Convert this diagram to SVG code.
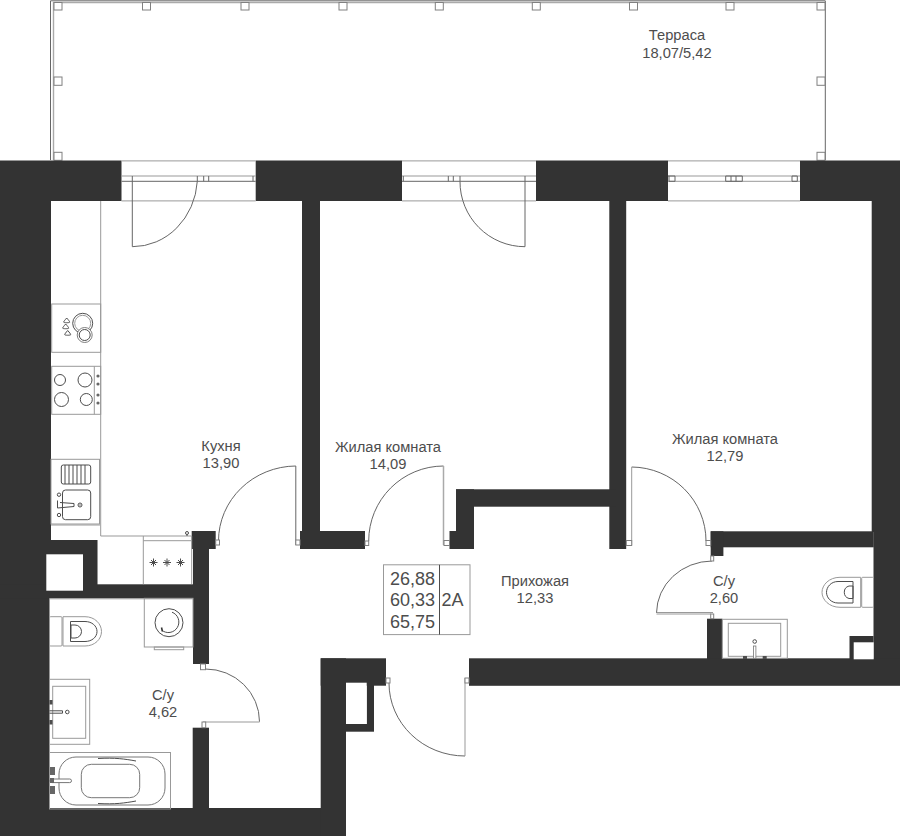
<svg xmlns="http://www.w3.org/2000/svg" width="900" height="836" viewBox="0 0 900 836">
<style>
.w{fill:#333;stroke:none}
.l{fill:none;stroke:#666;stroke-width:1}
.g{fill:none;stroke:#999;stroke-width:1}
.f{fill:#fff;stroke:#808080;stroke-width:1}
.k{fill:none;stroke:#4d4d4d;stroke-width:1}
.t{font-family:"Liberation Sans",Arial,sans-serif;font-size:14.7px;fill:#4d4d4d;text-anchor:middle}
.b{font-family:"Liberation Sans",Arial,sans-serif;font-size:18px;fill:#4d4d4d;text-anchor:middle}
</style>
<rect width="900" height="836" fill="#fff"/>
<g id="terrace">
<path class="l" d="M50.500 160V.8H825.300V160"/>
<path d="M53.500 160V2.500H825" fill="none" stroke="#aaa" stroke-width="1.400"/>
<g class="f">
<rect class="f" x="54" y="2.500" width="8" height="7.500"/><rect class="f" x="142.500" y="2.500" width="8" height="7.500"/><rect class="f" x="241" y="2.500" width="8" height="7.500"/><rect class="f" x="339" y="2.500" width="8" height="7.500"/><rect class="f" x="435.300" y="2.500" width="8" height="7.500"/><rect class="f" x="532.300" y="2.500" width="8" height="7.500"/><rect class="f" x="629.500" y="2.500" width="8" height="7.500"/><rect class="f" x="726" y="2.500" width="8" height="7.500"/><rect class="f" x="817" y="2.500" width="8" height="7.500"/>
<rect class="f" x="54" y="77" width="8" height="8.300"/><rect class="f" x="54" y="152.300" width="8" height="8"/><rect class="f" x="817" y="77" width="8" height="8.300"/><rect class="f" x="817" y="152.300" width="8" height="8"/>
</g>
</g>
<g id="walls">
<rect class="w" x="0" y="160.500" width="121.500" height="40.500"/>
<rect class="w" x="255.700" y="160.500" width="146.300" height="40.500"/>
<rect class="w" x="536" y="160.500" width="132" height="40.500"/>
<rect class="w" x="800" y="160.500" width="100" height="40.500"/>
<rect class="w" x="0" y="200" width="51" height="345"/>
<rect class="w" x="0" y="540" width="49.500" height="296"/>
<rect class="w" x="0" y="540" width="97.300" height="50"/>
<rect class="w" x="0" y="584.300" width="209" height="14"/>
<rect class="w" x="83" y="540" width="14.300" height="50"/>
<rect class="w" x="193" y="531" width="16" height="133"/>
<rect class="w" x="191.700" y="531" width="24" height="18"/>
<rect class="w" x="192.700" y="727.700" width="16.300" height="85"/>
<rect class="w" x="0" y="808" width="346" height="28"/>
<rect class="w" x="302" y="200" width="18" height="345"/>
<rect class="w" x="300" y="531" width="65" height="18"/>
<rect class="w" x="609.300" y="200" width="16.900" height="349"/>
<rect class="w" x="456" y="489.300" width="160" height="17.400"/>
<rect class="w" x="456" y="489.300" width="18" height="59.700"/>
<rect class="w" x="449.500" y="531" width="24.500" height="18"/>
<rect class="w" x="871.700" y="200" width="28.300" height="332"/>
<rect class="w" x="710.700" y="531.300" width="163" height="16"/>
<rect class="w" x="710.700" y="531.300" width="12.700" height="24.700"/>
<rect class="w" x="873.500" y="531" width="26.500" height="130"/>
<rect class="w" x="849.500" y="636" width="24" height="24"/>
<rect class="w" x="707" y="618.700" width="15.300" height="42"/>
<rect class="w" x="469" y="658.300" width="431" height="27.500"/>
<rect class="w" x="320.700" y="658.300" width="65.300" height="27.400"/>
<rect class="w" x="320.700" y="658.300" width="25.300" height="178"/>
<rect class="w" x="346" y="724" width="28" height="7.700"/>
<rect class="w" x="366.700" y="683" width="7.300" height="48"/>
<rect x="46.300" y="554.300" width="36.700" height="36.400" fill="#fff"/>
<rect x="853.700" y="642.300" width="20" height="17" fill="#fff"/>
<rect x="346" y="682.700" width="20.700" height="41.300" fill="#fff"/>
</g>
<g id="windows">
<path class="g" d="M121.500 160.900H255.700M121.500 200.900H255.700M402 160.900H536M402 200.900H536M668 160.900H800M668 200.900H800"/>
<path class="g" d="M121.500 176H255.700M402 176H536M668 176H800"/>
<path class="l" d="M121.500 181.300H255.700M402 181.300H536"/>
<path class="g" d="M668 181.300H800"/>
<path class="l" d="M197.300 176V181.300M203.700 176V181.300M208.700 176V181.300M253 176V181.300M403.300 176V181.300M448.300 176V181.300M453.300 176V181.300M669 176V181.300M675 176V181.300M725.700 176V181.300M731 176V181.300M736 176V181.300M742.300 176V181.300M792 176V181.300M797.300 176V181.300M668 176H675M725.700 176H742.300M792 176H797.300M669 181.300H675M725.700 181.300H742.300M792 181.300H797.300"/>
</g>
<g id="doors">
<path class="l" d="M132.300 176V246.700A65 70 0 0 0 197.300 181.300"/>
<path class="l" d="M525 176V246.700A65 65 0 0 1 460 181.300V176"/>
<path class="l" d="M295.800 466V545"/>
<path class="l" d="M295.800 466A78 75 0 0 0 218.500 541"/>
<rect class="f" x="215.700" y="540" width="3.800" height="5"/><rect class="f" x="295.800" y="540" width="4.200" height="5"/>
<path class="l" d="M443.500 466A75 75 0 0 0 368.700 541"/>
<path d="M443.500 466V545" fill="none" stroke="#aaa" stroke-width="1.500"/>
<rect class="f" x="365" y="541" width="3.700" height="4.500"/><rect class="f" x="444" y="540.500" width="5.500" height="5"/>
<path class="l" d="M631.700 467A75 74 0 0 1 706 541"/>
<path class="g" d="M631.700 467V545"/>
<rect class="f" x="626.300" y="540.500" width="5.400" height="5"/><rect class="f" x="706" y="540.500" width="4.700" height="5"/>
<path class="l" d="M712 561A56 52.500 0 0 0 656.500 613"/>
<path class="g" d="M656.500 612.500H713M656.500 614H711"/>
<rect class="f" x="710.700" y="556" width="3" height="5"/><rect class="f" x="710.700" y="614" width="3" height="4.700"/>
<path class="l" d="M205.500 669A54 52.700 0 0 1 259.500 721.700"/>
<path class="g" d="M203 722H259.500M203 723.200H205"/>
<rect class="f" x="200.500" y="664" width="5" height="5.700"/><rect class="f" x="202" y="722" width="3.700" height="5.700"/>
<path class="l" d="M389 683A76 73 0 0 0 465 756"/>
<path class="g" d="M465 678V756"/>
<rect class="f" x="386" y="678" width="4" height="5"/><rect class="f" x="465" y="678" width="4" height="5"/>
</g>
<g id="kitchen">
<path class="g" d="M100.700 201V536H191.700M143.300 536V584.300M143.300 540.700H191.700M191.700 536V584"/>
<circle cx="187" cy="533" r="1.500" class="k"/><path class="k" d="M187 534.500V536"/>
<rect class="g" x="51.700" y="304" width="49" height="48.300"/>
<circle class="k" cx="82.700" cy="323.300" r="10"/><circle class="g" cx="82.700" cy="323.300" r="8"/>
<circle class="f" cx="84.700" cy="335" r="7.500"/><circle class="k" cx="84.700" cy="335" r="5.500"/>
<path class="k" d="M66.700 318c-2 2.300-3 3.500-3 4.200s6 .7 6 0-1-1.900-3-4.200ZM65.700 324c-2 2.300-3 3.500-3 4.200s6 .7 6 0-1-1.900-3-4.200ZM67.700 330.500c-2 2.300-3 3.500-3 4.200s6 .7 6 0-1-1.900-3-4.200Z"/>
<rect class="g" x="51.700" y="366.300" width="49" height="48"/><path class="g" d="M94.300 366.300V414.300"/>
<circle class="k" stroke-width="1.200" cx="60" cy="380" r="5.500"/><circle class="k" cx="85" cy="380" r="7"/><circle class="k" cx="61.500" cy="399.500" r="7"/><circle class="k" cx="86.300" cy="399.500" r="6"/>
<g fill="#666"><circle cx="98" cy="376" r="1.600"/><circle cx="98" cy="384" r="1.600"/><circle cx="98" cy="395" r="1.600"/><circle cx="98" cy="403" r="1.600"/></g>
<rect class="g" x="51" y="459.300" width="48.500" height="64.700"/><path class="g" d="M51 525H100"/>
<rect class="k" x="61.300" y="465" width="29.400" height="19" rx="2"/><path class="k" stroke-width=".7" d="M65 465V484M69 465V484M73 465V484M77 465V484M81 465V484M85 465V484"/>
<rect class="k" x="62.500" y="490" width="28.200" height="29.700" rx="3"/>
<circle class="k" cx="59" cy="494.700" r="1.700"/><circle class="k" cx="59" cy="515" r="1.700"/>
<path class="k" d="M57.500 500.500V508L74 506.500V503.500L60 502.500"/><circle class="k" cx="80" cy="505" r="2"/><circle cx="80" cy="505" r=".8" fill="#666"/>
<g stroke="#4d4d4d" stroke-width="1"><path d="M149.500 562.500h8M153.500 558.500v8M151 560l5 5M156 560l-5 5M163 562.500h8M167 558.500v8M164.500 560l5 5M169.500 560l-5 5M176.500 562.500h8M180.500 558.500v8M178 560l5 5M183 560l-5 5"/></g>
</g>
<g id="bath-left">
<path class="g" d="M49.500 598.800H193"/>
<rect class="g" x="49.500" y="616.700" width="12.500" height="29.300" rx="1"/>
<path class="g" d="M63 616.700H85C95 616.700 101.500 624 101.500 631.500S95 646 85 646H63Z"/>
<path class="k" d="M70.500 621.500H85C92 621.500 97 626 97 631.500S92 641.500 85 641.500H70.500Z"/>
<path class="k" d="M71 625H75A6.500 6.500 0 0 1 75 638H71Z"/>
<rect class="g" x="144.300" y="598.300" width="48.700" height="48.700"/>
<rect class="g" x="154.300" y="647" width="29.400" height="2.700"/>
<circle class="k" cx="169" cy="622.700" r="14"/>
<path class="k" d="M172 612.200A10.500 10.500 0 1 1 161.500 630"/>
<path d="M161.500 627.500l1 4" stroke="#333" stroke-width="1.500" fill="none"/>
<rect class="g" x="49.500" y="679.300" width="40.200" height="65"/>
<rect class="g" x="52.700" y="686.300" width="33" height="52"/>
<path class="k" d="M49.500 710.800H62.500V713.200H49.500"/><circle class="k" cx="67.300" cy="712" r="1.800"/>
<g fill="#4d4d4d"><rect x="49.500" y="700" width="3" height="4.500"/><rect x="49.500" y="720" width="3" height="4.500"/></g>
<rect class="g" x="49.500" y="752.500" width="121" height="56.500"/>
<rect fill="none" stroke="#777" x="59" y="757" width="106" height="48" rx="17"/>
<rect fill="none" stroke="#777" x="81.300" y="764.300" width="58.400" height="33.400" rx="10"/>
<path class="k" stroke="#888" d="M98 758.500C115 757.500 125 759 136 761M98 803.500C115 804.500 125 803 136 801"/>
<rect x="50" y="779" width="21.500" height="3.600" rx="1.800" fill="#fff" stroke="#777"/>
<g fill="#666"><rect x="50" y="767" width="5" height="8"/><rect x="50" y="786" width="5" height="8"/><rect x="50" y="778" width="4" height="5"/></g>
</g>
<g id="bath-right">
<rect class="g" x="861.700" y="577.300" width="11.800" height="30" rx="1"/>
<path class="g" d="M860.700 577.300H840C829 577.300 822 585 822 592.300S829 607.300 840 607.300H860.700Z"/>
<path class="k" d="M853 581.500H838C831 581.500 826.500 587 826.500 592.300S831 603 838 603H853Z"/>
<path class="k" d="M853 586H849A6.500 6.500 0 0 0 849 598.500H853Z"/>
<rect class="g" x="722.300" y="619.300" width="65" height="39"/>
<rect class="g" x="728.300" y="623.300" width="52.400" height="33"/>
<circle class="k" cx="754.700" cy="641.500" r="1.800"/>
<rect x="753.500" y="646" width="2.400" height="12.300" fill="#fff" stroke="#777" stroke-width=".8"/>
<g fill="#4d4d4d"><rect x="743" y="656" width="4" height="3"/><rect x="762.700" y="656" width="4" height="3"/></g>
</g>
<g id="legend">
<rect class="g" x="383.500" y="564.800" width="86.500" height="69.800"/>
<path class="k" d="M439.500 564.800V634.600"/>
<text class="b" x="412.500" y="585">26,88</text>
<text class="b" x="412.500" y="606">60,33</text>
<text class="b" x="412.500" y="627.700">65,75</text>
<text class="b" x="452.500" y="606">2А</text>
</g>
<g id="labels">
<text class="t" x="677" y="40">Терраса</text><text class="t" x="677" y="58">18,07/5,42</text>
<text class="t" x="221" y="451">Кухня</text><text class="t" x="221" y="468">13,90</text>
<text class="t" x="388" y="452">Жилая комната</text><text class="t" x="388" y="469">14,09</text>
<text class="t" x="725" y="444">Жилая комната</text><text class="t" x="725" y="461">12,79</text>
<text class="t" x="535" y="586">Прихожая</text><text class="t" x="535" y="603">12,33</text>
<text class="t" x="724" y="586">С/у</text><text class="t" x="724" y="603">2,60</text>
<text class="t" x="163" y="700">С/у</text><text class="t" x="163" y="717">4,62</text>
</g>
</svg>
